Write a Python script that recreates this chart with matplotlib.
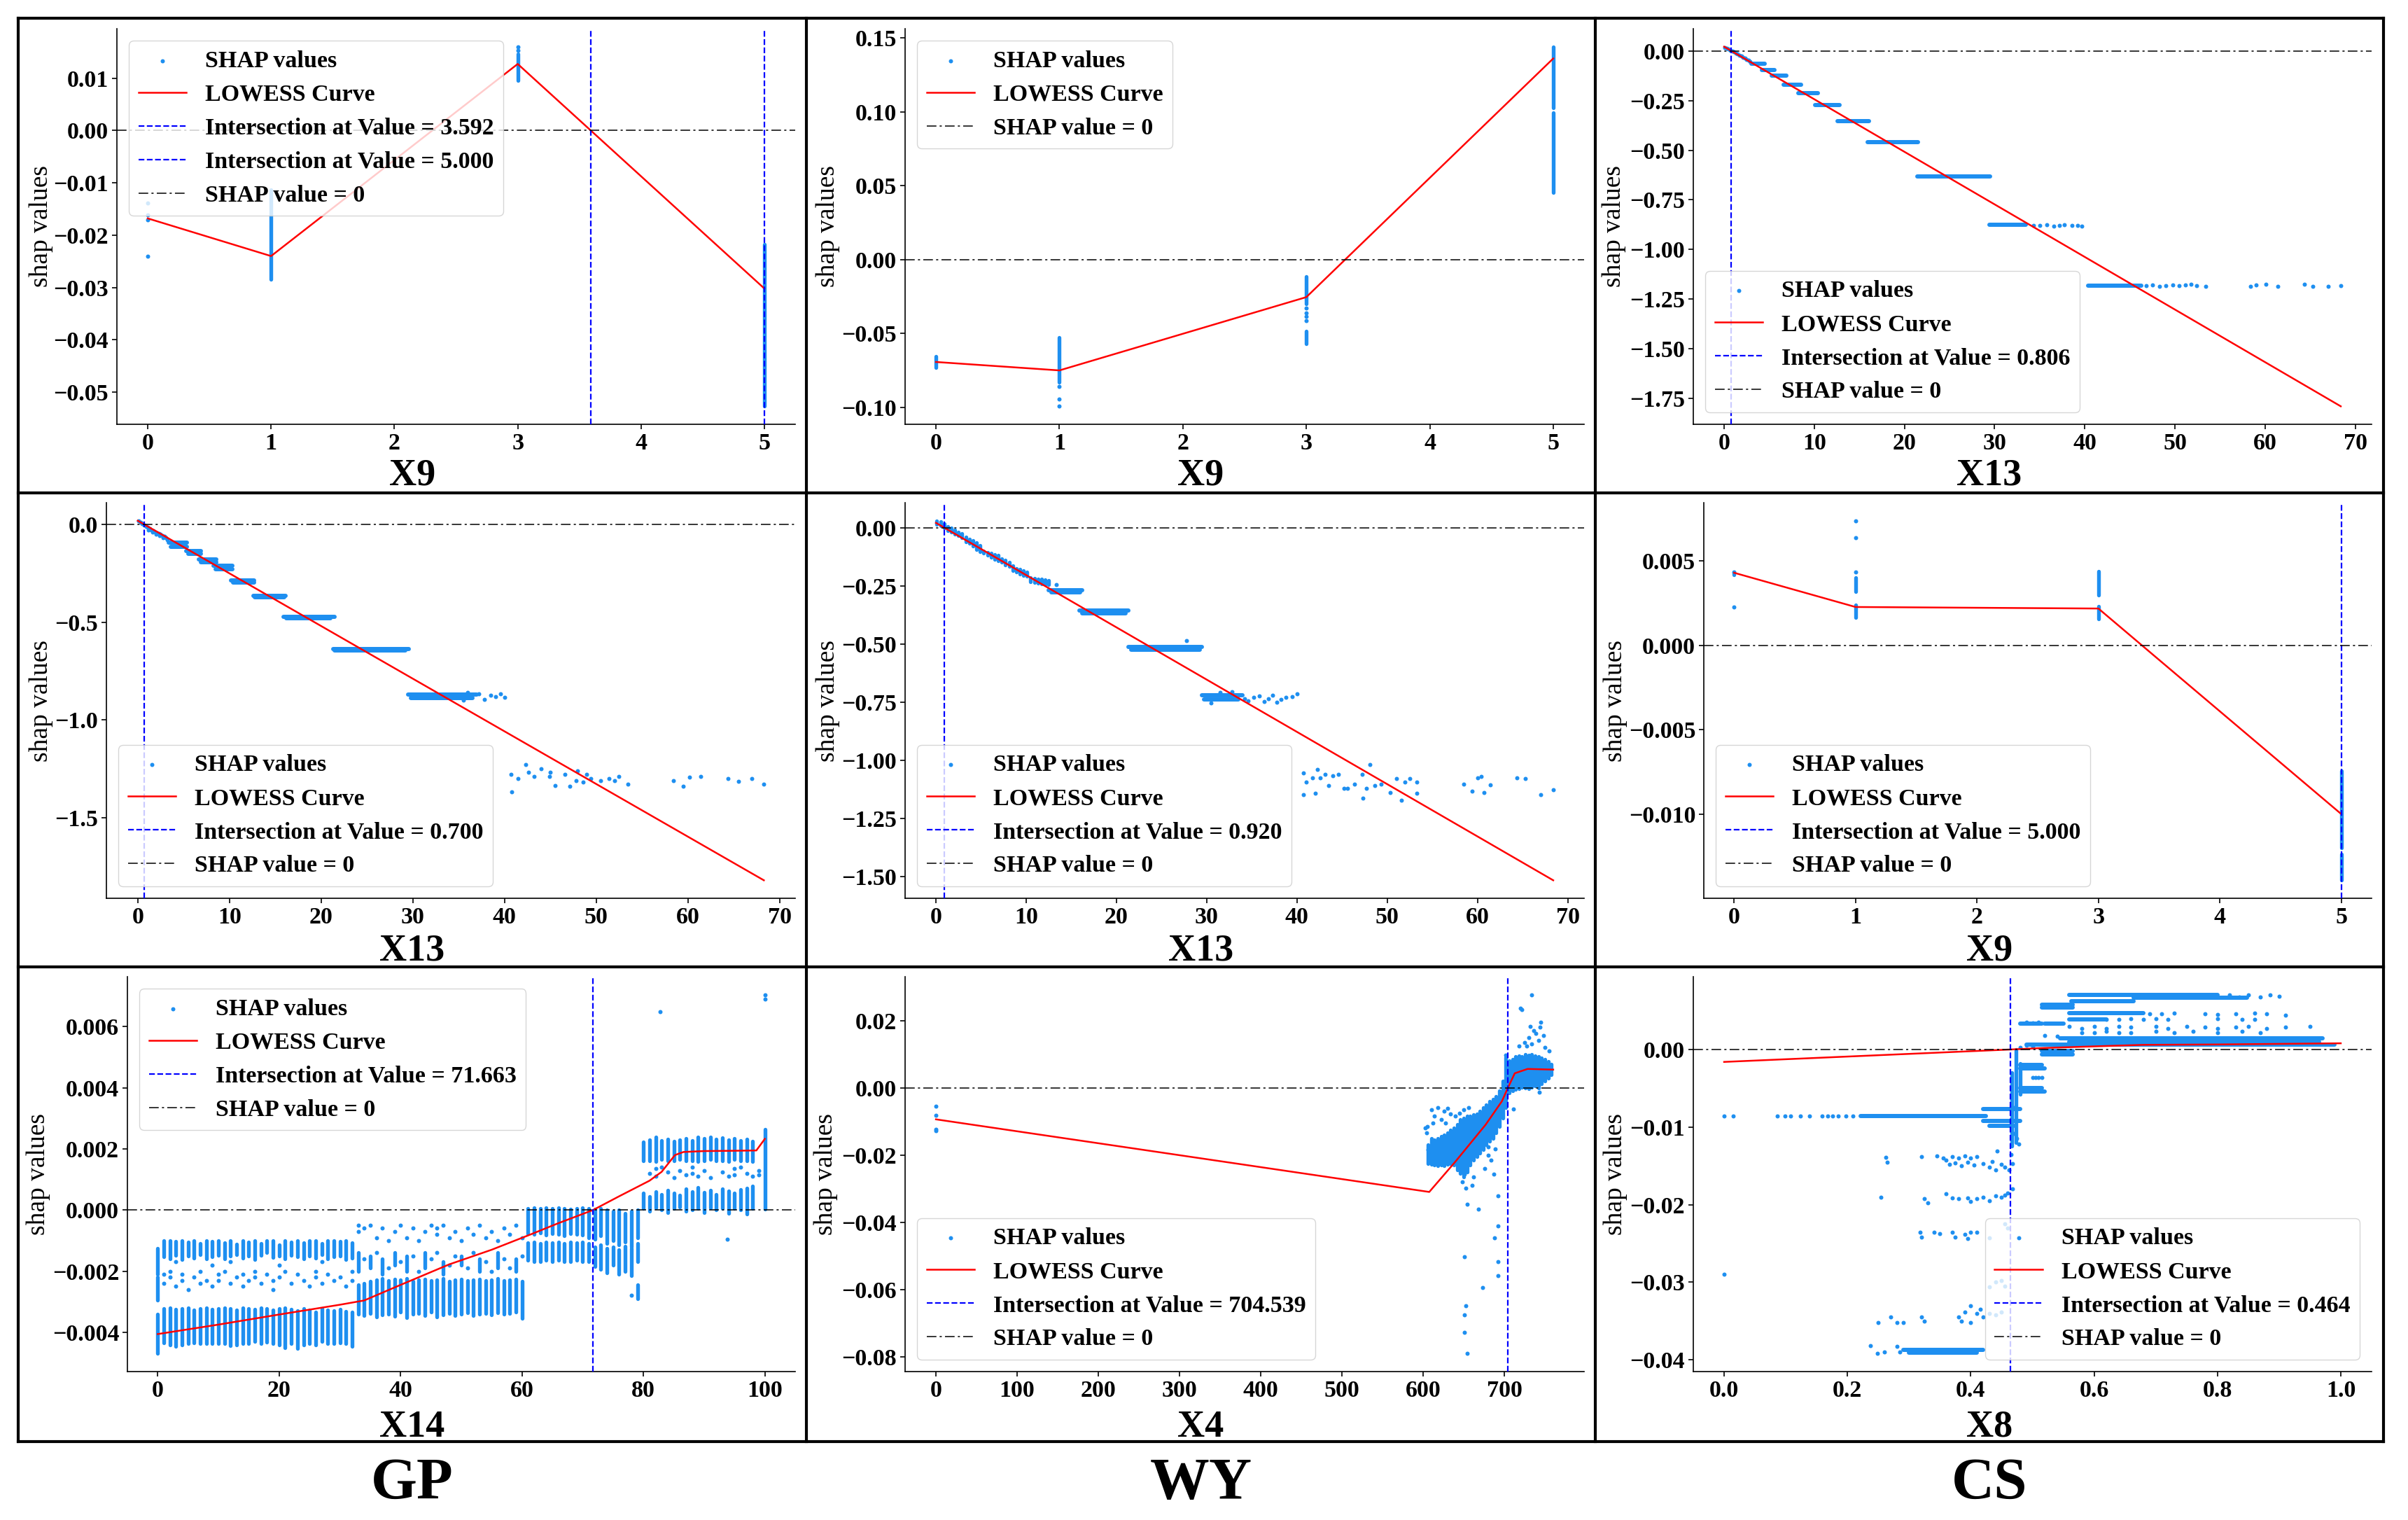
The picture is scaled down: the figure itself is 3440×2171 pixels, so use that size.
import matplotlib
matplotlib.use("Agg")
import matplotlib.pyplot as plt
from matplotlib.lines import Line2D
from matplotlib.ticker import MultipleLocator

plt.rcParams['font.family'] = 'serif'
plt.rcParams['font.serif'] = ['Liberation Serif', 'DejaVu Serif']
plt.rcParams['font.weight'] = 'bold'

# ---------------- data ----------------
groups = ['GP', 'WY', 'CS']

# GP / X9
gp_x9_pt_x = [0, 0, 0, 0, 3, 3]
gp_x9_pt_y = [-0.0139, -0.0161, -0.0171, -0.0240, 0.0160, 0.0153]
gp_x9_col_x = [1, 3, 5]
gp_x9_col_lo = [-0.0284, 0.0096, -0.0527]
gp_x9_col_hi = [-0.0113, 0.0146, -0.0218]
gp_x9_fit_x = [0, 1, 3, 5]
gp_x9_fit_y = [-0.0168, -0.0240, 0.0127, -0.0302]
gp_x9_cross = [3.592, 5.000]

# WY / X9
wy_x9_pt_x = [1, 1, 1, 3, 3, 3, 3]
wy_x9_pt_y = [-0.0859, -0.0943, -0.0993, -0.0330, -0.0363, -0.0385, -0.0413]
wy_x9_col_x = [0, 1, 3, 3, 5, 5]
wy_x9_col_lo = [-0.0733, -0.0830, -0.0300, -0.0570, 0.1028, 0.0452]
wy_x9_col_hi = [-0.0657, -0.0526, -0.0113, -0.0483, 0.1441, 0.0996]
wy_x9_fit_x = [0, 1, 3, 5]
wy_x9_fit_y = [-0.0693, -0.0750, -0.0254, 0.1361]
wy_x9_cross = []

# CS / X13
cs_x13_pt_x = [0.1, 0.3, 0.5, 0.7, 0.9, 1.1, 1.3, 1.5, 1.7, 1.9, 2.1, 2.3, 2.5, 2.7, 2.9,
               34.3, 35.0, 35.8, 36.6, 37.2, 37.7, 38.6, 39.2, 39.7,
               46.8, 47.5, 48.3, 49.0, 49.8, 50.5, 51.2, 51.8, 52.4, 53.4,
               58.4, 59.0, 60.1, 61.4, 64.4, 65.3, 67.0, 68.4]
cs_x13_pt_y = [0.015, 0.012, 0.008, 0.004, 0.000, -0.006, -0.011, -0.016, -0.021, -0.027, -0.032, -0.037, -0.043, -0.048, -0.053,
               -0.878, -0.880, -0.876, -0.882, -0.879, -0.875, -0.880, -0.878, -0.882,
               -1.183, -1.180, -1.186, -1.182, -1.178, -1.184, -1.180, -1.175, -1.181, -1.186,
               -1.185, -1.180, -1.174, -1.186, -1.176, -1.186, -1.186, -1.184]
cs_x13_row_y = [-0.065, -0.095, -0.126, -0.170, -0.213, -0.273, -0.354, -0.458, -0.631, -0.877, -1.182]
cs_x13_row_lo = [3.0, 4.2, 5.3, 6.6, 8.2, 10.1, 12.6, 15.9, 21.4, 29.4, 40.4]
cs_x13_row_hi = [4.5, 5.6, 6.9, 8.5, 10.4, 12.8, 16.1, 21.5, 29.5, 33.5, 46.3]
cs_x13_fit_x = [0, 34.2, 68.4]
cs_x13_fit_y = [0.0213, -0.884, -1.790]
cs_x13_cross = [0.806]

# GP / X13
gp_x13_pt_x = [0.1, 0.3, 0.5, 0.7, 0.9, 1.1, 1.3, 1.5, 1.7, 1.9, 2.1, 2.3, 2.5, 2.7, 2.9, 3.1,
               1.2, 1.6, 2.0, 2.4, 2.8, 3.2, 35.5, 36.0, 37.2, 37.8, 38.5, 39.0, 39.6, 40.0]
gp_x13_pt_y = [0.016, 0.010, 0.004, -0.002, -0.010, -0.016, -0.022, -0.028, -0.032, -0.038, -0.044, -0.048, -0.052, -0.058, -0.062, -0.068,
               -0.030, -0.040, -0.050, -0.058, -0.070, -0.078, -0.900, -0.860, -0.868, -0.895, -0.875, -0.880, -0.866, -0.885]
gp_x13_tail_x = [40.7, 40.8, 42.3, 42.6, 44.0, 44.9, 45.5, 46.6, 47.1, 48.0, 48.6, 49.4, 50.5, 51.4, 52.5,
                 53.5, 58.4, 59.5, 60.2, 61.4, 64.4, 65.5, 67.0, 68.3, 41.5, 43.2, 45.0, 47.8, 49.0, 52.0]
gp_x13_tail_y = [-1.28, -1.37, -1.23, -1.27, -1.25, -1.29, -1.335, -1.28, -1.34, -1.26, -1.32, -1.30, -1.31, -1.30, -1.29,
                 -1.33, -1.31, -1.34, -1.295, -1.29, -1.30, -1.315, -1.30, -1.33, -1.30, -1.29, -1.27, -1.31, -1.28, -1.31]
gp_x13_row_y = [-0.095, -0.115, -0.135, -0.150, -0.178, -0.192, -0.213, -0.228, -0.287,
                -0.298, -0.366, -0.374, -0.472, -0.480, -0.636, -0.646, -0.872, -0.888]
gp_x13_row_lo = [3.4, 3.6, 5.3, 5.5, 6.7, 6.9, 8.3, 8.5, 10.2, 10.4, 12.6, 12.8, 15.9, 16.2, 21.3, 21.5, 29.5, 29.8]
gp_x13_row_hi = [5.4, 5.4, 6.9, 6.9, 8.6, 8.6, 10.3, 10.3, 12.7, 12.7, 16.1, 16.0, 21.5, 21.0, 29.6, 29.2, 37.0, 36.5]
gp_x13_fit_x = [0, 68.3]
gp_x13_fit_y = [0.0189, -1.821]
gp_x13_cross = [0.700]

# WY / X13
wy_x13_col_x = [0.1, 0.5, 0.9, 1.3, 1.7, 2.1, 2.5, 2.9, 3.3, 3.7, 4.1, 4.5, 4.9, 5.3, 5.7, 6.1,
                6.5, 6.9, 7.3, 7.7, 8.1, 8.5, 8.9, 9.3, 9.7, 10.1, 10.5, 10.9, 11.3, 11.7, 12.1, 12.5]
wy_x13_col_lo = [0.015, 0.008, 0.000, -0.012, -0.020, -0.028, -0.035, -0.042, -0.060, -0.068, -0.078, -0.095, -0.103, -0.110, -0.118, -0.128,
                 -0.136, -0.142, -0.150, -0.160, -0.168, -0.185, -0.192, -0.200, -0.205, -0.210, -0.232, -0.236, -0.240, -0.242, -0.244, -0.246]
wy_x13_col_hi = [0.030, 0.025, 0.018, 0.005, -0.002, -0.010, -0.018, -0.025, -0.040, -0.048, -0.055, -0.065, -0.075, -0.100, -0.105, -0.108,
                 -0.115, -0.120, -0.135, -0.140, -0.150, -0.165, -0.175, -0.180, -0.185, -0.190, -0.215, -0.218, -0.220, -0.222, -0.224, -0.226]
wy_x13_row_y = [-0.268, -0.278, -0.357, -0.368, -0.512, -0.525, -0.722, -0.740]
wy_x13_row_lo = [12.5, 12.8, 15.9, 16.2, 21.3, 21.6, 29.5, 29.7]
wy_x13_row_hi = [16.2, 16.0, 21.3, 21.0, 29.5, 29.2, 34.0, 33.5]
wy_x13_mid_x = [34.2, 34.6, 35.2, 35.8, 36.4, 36.8, 37.3, 37.8, 38.2, 38.8, 39.5, 40.0, 30.5, 31.5, 32.8, 27.8, 13.3]
wy_x13_mid_y = [-0.735, -0.745, -0.730, -0.725, -0.748, -0.735, -0.720, -0.750, -0.738, -0.730, -0.728, -0.715,
                -0.755, -0.710, -0.705, -0.486, -0.2455]
wy_x13_tail_x = [40.7, 40.7, 41.0, 41.7, 42.0, 42.3, 42.6, 43.1, 43.5, 44.0, 44.6, 45.2, 45.6, 46.4, 47.2, 47.3, 47.7, 48.1, 48.6,
                 49.3, 50.3, 51.0, 51.6, 52.0, 52.5, 53.3, 53.3, 58.5, 59.4, 60.0, 60.4, 60.7, 61.4, 64.4, 65.3, 67.0, 68.4]
wy_x13_tail_y = [-1.055, -1.149, -1.095, -1.075, -1.143, -1.039, -1.075, -1.062, -1.109, -1.068, -1.062, -1.120, -1.122, -1.102,
                 -1.062, -1.163, -1.122, -1.018, -1.109, -1.102, -1.139, -1.079, -1.174, -1.095, -1.079, -1.143, -1.093, -1.102,
                 -1.133, -1.075, -1.071, -1.139, -1.106, -1.075, -1.079, -1.149, -1.129]
wy_x13_fit_x = [0, 68.4]
wy_x13_fit_y = [0.0207, -1.517]
wy_x13_cross = [0.920]

# CS / X9
cs_x9_pt_x = [0, 0, 1, 1, 1]
cs_x9_pt_y = [0.00437, 0.00228, 0.0074, 0.0064, 0.00435]
cs_x9_col_x = [0, 1, 1, 3, 3, 5, 5]
cs_x9_col_lo = [0.00420, 0.00320, 0.00167, 0.00300, 0.00159, -0.01393, -0.01200]
cs_x9_col_hi = [0.00437, 0.00404, 0.00240, 0.00440, 0.00233, -0.01240, -0.00744]
cs_x9_fit_x = [0, 1, 3, 5]
cs_x9_fit_y = [0.00431, 0.00228, 0.00219, -0.0100]
cs_x9_cross = [5.000]

# GP / X14  (integer feature values, stacked SHAP bands)
gp_x14_a_x = list(range(1, 33))
gp_x14_a_lo = [-0.00434, -0.00442, -0.00446, -0.00442, -0.00437, -0.00434, -0.00438, -0.00437,
               -0.00438, -0.00437, -0.00438, -0.00444, -0.00442, -0.00438, -0.00437, -0.00431,
               -0.00438, -0.00432, -0.00438, -0.00442, -0.00450, -0.00438, -0.00454, -0.00442,
               -0.00438, -0.00442, -0.00431, -0.00437, -0.00438, -0.00434, -0.00438, -0.00446]
gp_x14_a_hi = [-0.00322, -0.00320, -0.00325, -0.00322, -0.00320, -0.00328, -0.00322, -0.00320,
               -0.00325, -0.00322, -0.00320, -0.00322, -0.00326, -0.00320, -0.00322, -0.00325,
               -0.00320, -0.00322, -0.00328, -0.00322, -0.00320, -0.00325, -0.00330, -0.00322,
               -0.00326, -0.00335, -0.00322, -0.00328, -0.00330, -0.00325, -0.00332, -0.00335]
gp_x14_c_lo = [-0.00152, -0.00160, -0.00148, -0.00162, -0.00150, -0.00158, -0.00145, -0.00160,
               -0.00152, -0.00148, -0.00160, -0.00150, -0.00145, -0.00158, -0.00150, -0.00162,
               -0.00148, -0.00140, -0.00155, -0.00150, -0.00160, -0.00148, -0.00152, -0.00160,
               -0.00150, -0.00158, -0.00145, -0.00160, -0.00152, -0.00150, -0.00162, -0.00158]
gp_x14_c_hi = [-0.00100, -0.00100, -0.00102, -0.00100, -0.00105, -0.00100, -0.00110, -0.00100,
               -0.00102, -0.00100, -0.00108, -0.00100, -0.00112, -0.00100, -0.00104, -0.00100,
               -0.00110, -0.00100, -0.00100, -0.00115, -0.00100, -0.00104, -0.00100, -0.00108,
               -0.00100, -0.00100, -0.00110, -0.00100, -0.00100, -0.00102, -0.00100, -0.00106]
gp_x14_b_x = [1, 1, 2, 2, 3, 4, 4, 5, 6, 7, 7, 8, 9, 10, 10, 11, 12, 13, 14, 14, 15, 16, 16, 17,
              18, 19, 19, 20, 21, 22, 23, 24, 25, 26, 26, 27, 28, 29, 30, 31, 32, 32, 3, 9, 12, 20, 27]
gp_x14_b_y = [-0.0021, -0.0024, -0.0020, -0.0022, -0.0025, -0.0021, -0.0023, -0.0026, -0.0022, -0.0020, -0.0024,
              -0.0023, -0.0025, -0.0021, -0.0023, -0.0020, -0.0024, -0.0022, -0.0021, -0.0025, -0.0023, -0.0020,
              -0.0022, -0.0024, -0.0021, -0.0023, -0.0026, -0.0022, -0.0020, -0.0024, -0.0021, -0.0023, -0.0025,
              -0.0020, -0.0022, -0.0024, -0.0021, -0.0023, -0.0022, -0.0025, -0.0020, -0.0023,
              -0.0017, -0.0018, -0.0017, -0.0018, -0.0017]
gp_x14_a2_x = list(range(33, 61))
gp_x14_a2_lo = [-0.00340, -0.00345, -0.00338, -0.00350, -0.00342, -0.00340, -0.00348, -0.00335,
                -0.00352, -0.00340, -0.00338, -0.00345, -0.00335, -0.00350, -0.00342, -0.00338,
                -0.00345, -0.00340, -0.00336, -0.00345, -0.00340, -0.00338, -0.00342, -0.00336,
                -0.00340, -0.00338, -0.00335, -0.00355]
gp_x14_a2_hi = [-0.00245, -0.00240, -0.00232, -0.00228, -0.00225, -0.00230, -0.00226, -0.00228,
                -0.00225, -0.00232, -0.00228, -0.00226, -0.00230, -0.00228, -0.00225, -0.00232,
                -0.00228, -0.00226, -0.00230, -0.00228, -0.00226, -0.00230, -0.00228, -0.00225,
                -0.00230, -0.00228, -0.00226, -0.00232]
gp_x14_b2_x = [34, 36, 38, 40, 42, 43, 45, 46, 48, 49, 51, 52, 54, 55, 57, 58, 60]
gp_x14_b2_y = [-0.0016, -0.0014, -0.0019, -0.0017, -0.0015, -0.0020, -0.0016, -0.0014, -0.0018,
               -0.0015, -0.0019, -0.0014, -0.0017, -0.0020, -0.0016, -0.0019, -0.0015]
gp_x14_c2_x = [33, 33, 34, 35, 36, 37, 38, 39, 40, 41, 42, 43, 44, 45, 46, 46, 47, 48, 49, 50,
               51, 52, 53, 54, 55, 56, 57, 58, 59, 60]
gp_x14_c2_y = [-0.0005, -0.0007, -0.0006, -0.0005, -0.0009, -0.0006, -0.0010, -0.0007, -0.0005, -0.0009,
               -0.0006, -0.0010, -0.0007, -0.0005, -0.0006, -0.0008, -0.0005, -0.0009, -0.0007, -0.0010,
               -0.0006, -0.0008, -0.0005, -0.0009, -0.0007, -0.0010, -0.0006, -0.0008, -0.0005, -0.0009]
gp_x14_d_x = list(range(61, 80))
gp_x14_d_up_lo = [-0.00078, -0.00080, -0.00075, -0.00082, -0.00078, -0.00080, -0.00085, -0.00078, -0.00080, -0.00082,
                  -0.00090, -0.00095, -0.00085, -0.00110, -0.00100, -0.00115, -0.00105, -0.00120, -0.00090]
gp_x14_d_up_hi = [0.00005, 0.00008, 0.00005, 0.00008, 0.00005, 0.00008, 0.00005, 0.00003, 0.00005, 0.00008,
                  0.00005, 0.00003, 0.00005, 0.00000, -0.00005, 0.00000, -0.00010, -0.00005, 0.00000]
gp_x14_d_dn_lo = [-0.00165, -0.00170, -0.00168, -0.00165, -0.00170, -0.00165, -0.00168, -0.00170, -0.00165, -0.00168,
                  -0.00170, -0.00185, -0.00195, -0.00205, -0.00180, -0.00210, -0.00200, -0.00215, -0.00170]
gp_x14_d_dn_hi = [-0.00108, -0.00105, -0.00110, -0.00105, -0.00108, -0.00105, -0.00110, -0.00105, -0.00108, -0.00105,
                  -0.00110, -0.00120, -0.00115, -0.00125, -0.00120, -0.00130, -0.00118, -0.00125, -0.00110]
gp_x14_e_x = list(range(80, 99))
gp_x14_e_lo = [0.00160, 0.00162, 0.00158, 0.00165, 0.00160, 0.00162, 0.00165, 0.00160, 0.00162, 0.00158,
               0.00160, 0.00165, 0.00160, 0.00162, 0.00158, 0.00165, 0.00160, 0.00162, 0.00158]
gp_x14_e_hi = [0.00222, 0.00230, 0.00240, 0.00228, 0.00232, 0.00225, 0.00230, 0.00235, 0.00228, 0.00238,
               0.00235, 0.00238, 0.00232, 0.00236, 0.00230, 0.00235, 0.00228, 0.00232, 0.00225]
gp_x14_g_lo = [0.00005, -0.00005, 0.00008, 0.00000, -0.00008, 0.00005, 0.00010, -0.00005, 0.00000, 0.00005,
               -0.00008, 0.00008, 0.00000, 0.00005, -0.00010, 0.00005, 0.00000, -0.00012, 0.00005]
gp_x14_g_hi = [0.00055, 0.00045, 0.00060, 0.00050, 0.00065, 0.00055, 0.00048, 0.00070, 0.00060, 0.00075,
               0.00058, 0.00065, 0.00050, 0.00070, 0.00062, 0.00055, 0.00068, 0.00072, 0.00078]
gp_x14_f_x = [81, 82, 82, 83, 84, 85, 86, 87, 88, 88, 89, 90, 91, 93, 94, 95, 95, 96, 97, 98, 99, 99,
              82.8, 100, 100, 93.8, 78]
gp_x14_f_y = [0.00120, 0.00135, 0.00110, 0.00140, 0.00125, 0.00105, 0.00130, 0.00115, 0.00140, 0.00120, 0.00110,
              0.00130, 0.00105, 0.00125, 0.00110, 0.00135, 0.00115, 0.00140, 0.00120, 0.00110, 0.00130, 0.00115,
              0.0065, 0.0069, 0.00705, -0.00095, -0.0028]
gp_x14_x_x = [0, 0, 0, 79, 100, 33, 35, 37, 39, 41, 44, 47, 50, 53, 56, 59]
gp_x14_x_lo = [-0.0047, -0.00296, -0.0021, -0.00290, 0.00002, -0.0020, -0.0019, -0.0021, -0.0018, -0.0020,
               -0.0019, -0.0021, -0.0018, -0.0020, -0.0019, -0.0020]
gp_x14_x_hi = [-0.0034, -0.0022, -0.00125, -0.00245, 0.00265, -0.0014, -0.0015, -0.0016, -0.0014, -0.0015,
               -0.0014, -0.0017, -0.0015, -0.0016, -0.0014, -0.0016]
gp_x14_fit_x = [0, 10, 20, 30, 34, 40, 48, 55, 61.4, 66, 71.7, 76, 81, 83, 85.2, 86.6, 90, 95, 98.6, 100]
gp_x14_fit_y = [-0.00406, -0.00375, -0.00342, -0.00310, -0.00296, -0.00245, -0.00178, -0.00130, -0.00080, -0.00043,
                0.0, 0.00045, 0.00096, 0.00125, 0.00180, 0.00190, 0.00193, 0.00194, 0.00195, 0.00233]
gp_x14_cross = [71.663]

# WY / X4
wy_x4_col_x = [606, 610, 614, 618, 622, 626, 630, 634, 638, 642, 646, 650, 654, 658, 662, 666, 670, 674, 678, 682,
               686, 690, 694, 698, 702, 706, 710, 714, 718, 722, 726, 730, 734, 738, 742, 746, 750, 754, 758]
wy_x4_col_lo = [-0.0225, -0.0228, -0.0230, -0.0232, -0.0230, -0.0232, -0.0228, -0.0225, -0.0230, -0.0245,
                -0.0255, -0.0265, -0.0250, -0.0230, -0.0215, -0.0205, -0.0195, -0.0185, -0.0170, -0.0160,
                -0.0150, -0.0135, -0.0115, -0.0090, -0.0060, -0.0015, -0.0010, -0.0006, -0.0002, 0.0002,
                0.0000, -0.0003, 0.0002, 0.0005, 0.0000, 0.0012, 0.0020, 0.0028, 0.0038]
wy_x4_col_hi = [-0.0170, -0.0150, -0.0155, -0.0150, -0.0145, -0.0140, -0.0135, -0.0125, -0.0120, -0.0110,
                -0.0095, -0.0090, -0.0085, -0.0085, -0.0080, -0.0078, -0.0070, -0.0060, -0.0050, -0.0040,
                -0.0035, -0.0025, -0.0010, 0.0020, 0.0090, 0.0080, 0.0085, 0.0092, 0.0095, 0.0092,
                0.0100, 0.0098, 0.0100, 0.0095, 0.0092, 0.0088, 0.0085, 0.0078, 0.0070]
wy_x4_pt_x = [0, 0, 0, 0, 610, 614, 618, 622, 626, 630, 634, 612, 605, 603, 628, 640, 645, 650, 656, 604, 606, 609,
              648, 651, 653, 654, 668, 651, 653, 651, 651, 654, 673, 692, 692, 688, 692, 692, 687, 689, 680, 684,
              711, 660, 662, 676, 680, 720, 722, 734, 732, 745, 739, 734, 730, 742, 748, 725, 718, 750, 736, 744,
              755, 728, 743, 701.5]
wy_x4_pt_y = [-0.0054, -0.0082, -0.0124, -0.0128, -0.0065, -0.0085, -0.0060, -0.0095, -0.0070, -0.0062, -0.0078,
              -0.0105, -0.0115, -0.0120, -0.0105, -0.0085, -0.0075, -0.0065, -0.0060, -0.0135, -0.0185, -0.0195,
              -0.0280, -0.0257, -0.0298, -0.0346, -0.0361, -0.0503, -0.0649, -0.0675, -0.0728, -0.0791, -0.0594,
              -0.0321, -0.0412, -0.0447, -0.0518, -0.0560, -0.0257, -0.0183, -0.0200, -0.0215, -0.0063, -0.0290,
              -0.0265, -0.0240, -0.0175, 0.0236, 0.0232, 0.0277, 0.0183, 0.0196, 0.0162, 0.0130, 0.0150, 0.0140,
              0.0155, 0.0135, 0.0125, 0.0120, 0.0170, 0.0180, 0.0110, 0.0125, -0.0013, 0.0098]
wy_x4_fit_x = [0, 607.6, 639.7, 677, 697.1, 704.5, 712.9, 728.7, 760.3]
wy_x4_fit_y = [-0.0094, -0.0310, -0.0220, -0.0110, -0.0040, 0.0, 0.0043, 0.0056, 0.0054]
wy_x4_cross = [704.539]

# CS / X8
cs_x8_row_y = [0.00707, 0.00626, 0.00665, 0.00580, 0.00540, 0.00465, 0.00390, 0.00337, 0.00337, 0.00140, 0.00100,
               0.00060, -0.00020, -0.00060, -0.00200, -0.00240, -0.00500, -0.00540, -0.00770, -0.00855, -0.00920,
               -0.00980, -0.03870, -0.03910]
cs_x8_row_lo = [0.560, 0.563, 0.664, 0.515, 0.515, 0.560, 0.560, 0.480, 0.520, 0.545, 0.560, 0.490, 0.515, 0.515,
                0.480, 0.480, 0.480, 0.480, 0.420, 0.221, 0.420, 0.430, 0.290, 0.300]
cs_x8_row_hi = [0.800, 0.664, 0.848, 0.565, 0.565, 0.680, 0.620, 0.515, 0.550, 0.970, 0.965, 0.990, 0.565, 0.565,
                0.515, 0.520, 0.515, 0.520, 0.480, 0.424, 0.480, 0.470, 0.420, 0.410]
cs_x8_col_x = [0.466, 0.473, 0.480]
cs_x8_col_lo = [-0.0125, -0.0120, -0.0058]
cs_x8_col_hi = [-0.0030, 0.0000, -0.0018]
cs_x8_low_x = [0.0, 0.015, 0.086, 0.099, 0.108, 0.124, 0.139, 0.159, 0.168, 0.176, 0.185, 0.197, 0.209, 0.0,
               0.262, 0.264, 0.32, 0.345, 0.355, 0.36, 0.37, 0.375, 0.38, 0.39, 0.395, 0.40, 0.41, 0.365, 0.385,
               0.405, 0.42, 0.43, 0.44, 0.45, 0.435, 0.455, 0.443,
               0.254, 0.325, 0.33, 0.36, 0.37, 0.38, 0.395, 0.40, 0.41, 0.42, 0.43, 0.44, 0.45, 0.455, 0.46,
               0.318, 0.320, 0.34, 0.35, 0.37, 0.375, 0.39, 0.395, 0.40, 0.41, 0.43, 0.455, 0.46,
               0.44, 0.45, 0.455, 0.43,
               0.25, 0.27, 0.28, 0.29, 0.32, 0.325, 0.38, 0.385, 0.39, 0.40, 0.41, 0.42, 0.43, 0.44, 0.45, 0.40, 0.415,
               0.237, 0.248, 0.26, 0.28, 0.285,
               0.470, 0.475, 0.478, 0.465, 0.468, 0.462, 0.470, 0.468]
cs_x8_low_y = [-0.0086, -0.0086, -0.0086, -0.0086, -0.0086, -0.0086, -0.0086, -0.0086, -0.0086, -0.0086, -0.0086,
               -0.0086, -0.0086, -0.0290,
               -0.0139, -0.0145, -0.0138, -0.0137, -0.0140, -0.0143, -0.0138, -0.0146, -0.0140, -0.0137, -0.0145,
               -0.0140, -0.0138, -0.0148, -0.0150, -0.0149, -0.0147, -0.0152, -0.0155, -0.0148, -0.0144, -0.0152,
               -0.0131,
               -0.0190, -0.0192, -0.0198, -0.0186, -0.0191, -0.0192, -0.0191, -0.0196, -0.0192, -0.0190, -0.0195,
               -0.0189, -0.0190, -0.0188, -0.0185,
               -0.0236, -0.0242, -0.0236, -0.0237, -0.0236, -0.0242, -0.0238, -0.0244, -0.0236, -0.0236, -0.0243,
               -0.0225, -0.0230,
               -0.0300, -0.0298, -0.0305, -0.0306,
               -0.0352, -0.0345, -0.0352, -0.0352, -0.0345, -0.0350, -0.0345, -0.0350, -0.0338, -0.0330, -0.0340,
               -0.0345, -0.0340, -0.0342, -0.0338, -0.0352, -0.0335,
               -0.0382, -0.0392, -0.0390, -0.0383, -0.0390,
               -0.0108, -0.0115, -0.0122, -0.0135, -0.0147, -0.0155, -0.0075, -0.0180]
cs_x8_high_x = [0.56, 0.58, 0.60, 0.62, 0.64, 0.66, 0.70, 0.72, 0.75, 0.78, 0.80, 0.83, 0.85, 0.88, 0.91, 0.95,
                0.58, 0.60, 0.62, 0.64, 0.66, 0.70, 0.73, 0.76, 0.80, 0.84, 0.87,
                0.69, 0.71, 0.73, 0.78, 0.80, 0.83, 0.86, 0.88, 0.91,
                0.62, 0.64, 0.66, 0.68, 0.70, 0.72, 0.80, 0.84, 0.86,
                0.82, 0.835, 0.85, 0.87, 0.885, 0.90,
                0.49, 0.50, 0.51, 0.48, 0.49, 0.50, 0.50, 0.505, 0.51, 0.515, 0.52, 0.54]
cs_x8_high_y = [0.0030, 0.0027, 0.0030, 0.0027, 0.0030, 0.0029, 0.0030, 0.0027, 0.0030, 0.0029, 0.0027, 0.0029,
                0.0030, 0.0027, 0.0029, 0.0030,
                0.0022, 0.0022, 0.0023, 0.0022, 0.0022, 0.0023, 0.0022, 0.0023, 0.0022, 0.0023, 0.0022,
                0.0046, 0.0046, 0.0047, 0.0046, 0.0045, 0.0046, 0.0047, 0.0046, 0.0044,
                0.0039, 0.0039, 0.0040, 0.0039, 0.0040, 0.0039, 0.0040, 0.0039, 0.0039,
                0.0070, 0.0068, 0.0070, 0.0068, 0.0070, 0.0069,
                0.0035, 0.0034, 0.0035, 0.0003, 0.0005, 0.0004, -0.0036, -0.0036, -0.0036, -0.0036, 0.0018, 0.0017]
cs_x8_fit_x = [0.0, 0.464, 0.52, 0.60, 0.68, 0.80, 1.0]
cs_x8_fit_y = [-0.0016, 0.0, 0.0002, 0.0004, 0.0006, 0.00065, 0.0008]
cs_x8_cross = [0.464]

# ---------------- layout (pixels of the 3440 x 2171 canvas) ----------------
W, H = 3440, 2171
BLUE = '#1E8FF0'
DOT = 4.3  # marker diameter in points

fig = plt.figure(figsize=(W / 100, H / 100), dpi=100)


def fx(px):
    return px / W


def fy(py):
    return 1 - py / H


frame_x = [26, 1152, 2279, 3405]
frame_y = [26, 704, 1381, 2059]
for x in frame_x:
    fig.add_artist(Line2D([fx(x), fx(x)], [fy(frame_y[0]), fy(frame_y[-1])], transform=fig.transFigure,
                          color='black', lw=3, solid_capstyle='projecting'))
for y in frame_y:
    fig.add_artist(Line2D([fx(frame_x[0]), fx(frame_x[-1])], [fy(y), fy(y)], transform=fig.transFigure,
                          color='black', lw=3, solid_capstyle='projecting'))

boxes = [(167, 1136, 41, 606), (1293, 2263, 41, 606), (2419, 3388, 41, 606),
         (152, 1136, 718, 1283), (1293, 2263, 718, 1283), (2434, 3388, 718, 1283),
         (182, 1136, 1395, 1959), (1293, 2263, 1395, 1959), (2419, 3388, 1395, 1959)]
ylab_x = [59, 1183, 2306, 59, 1183, 2308, 55, 1180, 2308]
xlab_base = [693, 1372, 2052]
col_centers = [(frame_x[i] + frame_x[i + 1]) / 2 for i in range(3)]


def draw(k, xlabel, pt_x, pt_y, col_x, col_lo, col_hi, row_y, row_lo, row_hi,
         fit_x, fit_y, cross, loc, xstep, ystep):
    l, r, t, b = boxes[k]
    ax = fig.add_axes([fx(l), fy(b), (r - l) / W, (b - t) / H])
    ax.scatter(pt_x, pt_y, s=DOT ** 2, color=BLUE, linewidths=0, label='SHAP values', zorder=1)
    if col_x:
        ax.vlines(col_x, col_lo, col_hi, colors=BLUE, linewidth=DOT * 0.9, capstyle='round', zorder=1)
    if row_y:
        ax.hlines(row_y, row_lo, row_hi, colors=BLUE, linewidth=DOT, capstyle='round', zorder=1)
    ax.plot(fit_x, fit_y, color='red', lw=1.8, label='LOWESS Curve', zorder=3)
    for c in cross:
        ax.axvline(c, color='blue', ls='--', lw=1.6, label=f'Intersection at Value = {c:.3f}', zorder=3)
    ax.axhline(0, color='black', ls=(0, (9, 3, 2, 3)), lw=1.1, label='SHAP value = 0', zorder=3)

    ax.xaxis.set_major_locator(MultipleLocator(xstep))
    ax.yaxis.set_major_locator(MultipleLocator(ystep))
    ax.tick_params(labelsize=24.5, width=1.2, length=5)
    for s in ['top', 'right']:
        ax.spines[s].set_visible(False)
    for s in ['left', 'bottom']:
        ax.spines[s].set_linewidth(1.2)

    ax.set_ylabel('shap values', fontsize=27, fontweight='normal')
    ax.yaxis.set_label_coords(fx(ylab_x[k]), fy((t + b) / 2), transform=fig.transFigure)
    ax.yaxis.label.set_verticalalignment('center')
    ax.set_xlabel(xlabel, fontsize=39, fontweight='bold')
    ax.xaxis.set_label_coords(fx(col_centers[k % 3]), fy(xlab_base[k // 3]), transform=fig.transFigure)
    ax.xaxis.label.set_verticalalignment('baseline')

    ax.legend(loc=loc, prop={'size': 24.5, 'weight': 'bold'})
    return ax


draw(0, 'X9', gp_x9_pt_x, gp_x9_pt_y, gp_x9_col_x, gp_x9_col_lo, gp_x9_col_hi, [], [], [],
     gp_x9_fit_x, gp_x9_fit_y, gp_x9_cross, 'upper left', 1, 0.01)
draw(1, 'X9', wy_x9_pt_x, wy_x9_pt_y, wy_x9_col_x, wy_x9_col_lo, wy_x9_col_hi, [], [], [],
     wy_x9_fit_x, wy_x9_fit_y, wy_x9_cross, 'upper left', 1, 0.05)
draw(2, 'X13', cs_x13_pt_x, cs_x13_pt_y, [], [], [], cs_x13_row_y, cs_x13_row_lo, cs_x13_row_hi,
     cs_x13_fit_x, cs_x13_fit_y, cs_x13_cross, 'lower left', 10, 0.25)
draw(3, 'X13', gp_x13_pt_x + gp_x13_tail_x, gp_x13_pt_y + gp_x13_tail_y, [], [], [],
     gp_x13_row_y, gp_x13_row_lo, gp_x13_row_hi,
     gp_x13_fit_x, gp_x13_fit_y, gp_x13_cross, 'lower left', 10, 0.5)
draw(4, 'X13', wy_x13_mid_x + wy_x13_tail_x, wy_x13_mid_y + wy_x13_tail_y,
     wy_x13_col_x, wy_x13_col_lo, wy_x13_col_hi, wy_x13_row_y, wy_x13_row_lo, wy_x13_row_hi,
     wy_x13_fit_x, wy_x13_fit_y, wy_x13_cross, 'lower left', 10, 0.25)
draw(5, 'X9', cs_x9_pt_x, cs_x9_pt_y, cs_x9_col_x, cs_x9_col_lo, cs_x9_col_hi, [], [], [],
     cs_x9_fit_x, cs_x9_fit_y, cs_x9_cross, 'lower left', 1, 0.005)

gp_x14_cols_x = gp_x14_a_x + gp_x14_a_x + gp_x14_a2_x + gp_x14_d_x + gp_x14_d_x + gp_x14_e_x + gp_x14_e_x + gp_x14_x_x
gp_x14_cols_lo = gp_x14_a_lo + gp_x14_c_lo + gp_x14_a2_lo + gp_x14_d_up_lo + gp_x14_d_dn_lo + gp_x14_e_lo + gp_x14_g_lo + gp_x14_x_lo
gp_x14_cols_hi = gp_x14_a_hi + gp_x14_c_hi + gp_x14_a2_hi + gp_x14_d_up_hi + gp_x14_d_dn_hi + gp_x14_e_hi + gp_x14_g_hi + gp_x14_x_hi
draw(6, 'X14', gp_x14_b_x + gp_x14_b2_x + gp_x14_c2_x + gp_x14_f_x, gp_x14_b_y + gp_x14_b2_y + gp_x14_c2_y + gp_x14_f_y,
     gp_x14_cols_x, gp_x14_cols_lo, gp_x14_cols_hi, [], [], [],
     gp_x14_fit_x, gp_x14_fit_y, gp_x14_cross, 'upper left', 20, 0.002)
draw(7, 'X4', wy_x4_pt_x, wy_x4_pt_y, wy_x4_col_x, wy_x4_col_lo, wy_x4_col_hi, [], [], [],
     wy_x4_fit_x, wy_x4_fit_y, wy_x4_cross, 'lower left', 100, 0.02)
draw(8, 'X8', cs_x8_low_x + cs_x8_high_x, cs_x8_low_y + cs_x8_high_y, cs_x8_col_x, cs_x8_col_lo, cs_x8_col_hi,
     cs_x8_row_y, cs_x8_row_lo, cs_x8_row_hi,
     cs_x8_fit_x, cs_x8_fit_y, cs_x8_cross, 'lower right', 0.2, 0.01)

for i, g in enumerate(groups):
    fig.text(fx(col_centers[i]), fy(2141), g, ha='center', va='baseline', fontsize=61, fontweight='bold')

fig.savefig('out.png', dpi=100, facecolor='white')
